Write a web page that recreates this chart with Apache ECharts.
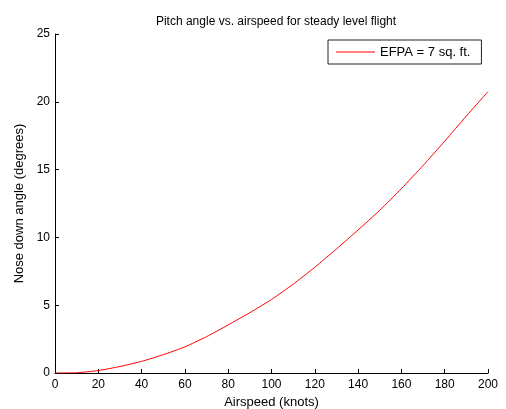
<!DOCTYPE html>
<html>
<head>
<meta charset="utf-8">
<script src="https://cdn.jsdelivr.net/npm/echarts@6/dist/echarts.min.js"></script>
<style>
  html, body { margin: 0; padding: 0; background: #fff; }
  #chart { width: 506px; height: 409px; }
</style>
</head>
<body>
<div id="chart"></div>
<script>
// airspeed in knots, nose down angle in degrees
const airspeed = [0, 10, 20, 30, 40, 50, 60, 70, 80, 90, 100, 110, 120, 130, 140, 150, 160, 170, 180, 190, 200]
const noseDown = [0, 0.02, 0.18, 0.48, 0.86, 1.35, 1.93, 2.68, 3.55, 4.45, 5.42, 6.55, 7.8, 9.15, 10.55, 12.0, 13.6, 15.3, 17.1, 18.95, 20.75]
const xTicks = [0, 20, 40, 60, 80, 100, 120, 140, 160, 180, 200]
const yTicks = [0, 5, 10, 15, 20, 25]
const seriesName = 'EFPA = 7 sq. ft.'

const font = '"Liberation Sans", Arial, sans-serif'
const ink = '#000'

const chart = echarts.init(document.getElementById('chart'), null, { renderer: 'canvas' })

const axisCommon = {
  type: 'value',
  nameLocation: 'middle',
  nameTextStyle: { color: ink, fontFamily: font, fontSize: 13 },
  axisLine: { show: true, lineStyle: { color: ink, width: 1 } },
  axisTick: { show: true, inside: true, length: 4, lineStyle: { color: ink } },
  axisLabel: { color: ink, fontFamily: font, fontSize: 12 },
  splitLine: { show: false }
}

chart.setOption({
  animation: false,
  backgroundColor: '#fff',
  title: {
    text: 'Pitch angle vs. airspeed for steady level flight',
    left: 271,
    textAlign: 'center',
    top: 11,
    textStyle: { color: ink, fontFamily: font, fontSize: 12, fontWeight: 'normal' }
  },
  legend: {
    left: 328,
    top: 40,
    orient: 'vertical',
    padding: [4, 11, 4, 8],
    borderColor: '#222',
    borderWidth: 1,
    backgroundColor: '#fff',
    icon: 'rect',
    itemWidth: 39,
    itemHeight: 1,
    textStyle: { color: ink, fontFamily: font, fontSize: 13, lineHeight: 16 },
    data: [seriesName]
  },
  grid: { left: 55, right: 18, top: 34, bottom: 36, containLabel: false, outerBoundsMode: 'none' },
  xAxis: Object.assign({}, axisCommon, {
    name: 'Airspeed (knots)',
    nameGap: 19,
    min: xTicks[0],
    max: xTicks[xTicks.length - 1],
    interval: xTicks[1] - xTicks[0],
    axisLabel: Object.assign({}, axisCommon.axisLabel, { margin: 6 })
  }),
  yAxis: Object.assign({}, axisCommon, {
    name: 'Nose down angle (degrees)',
    nameGap: 23,
    min: yTicks[0],
    max: yTicks[yTicks.length - 1],
    interval: yTicks[1] - yTicks[0],
    axisLabel: Object.assign({}, axisCommon.axisLabel, { margin: 5 })
  }),
  series: [{
    name: seriesName,
    type: 'line',
    data: airspeed.map((v, i) => [v, noseDown[i]]),
    smooth: 0.2,
    showSymbol: false,
    lineStyle: { color: '#ff0000', width: 1 },
    itemStyle: { color: '#ff0000' }
  }]
})
</script>
</body>
</html>
